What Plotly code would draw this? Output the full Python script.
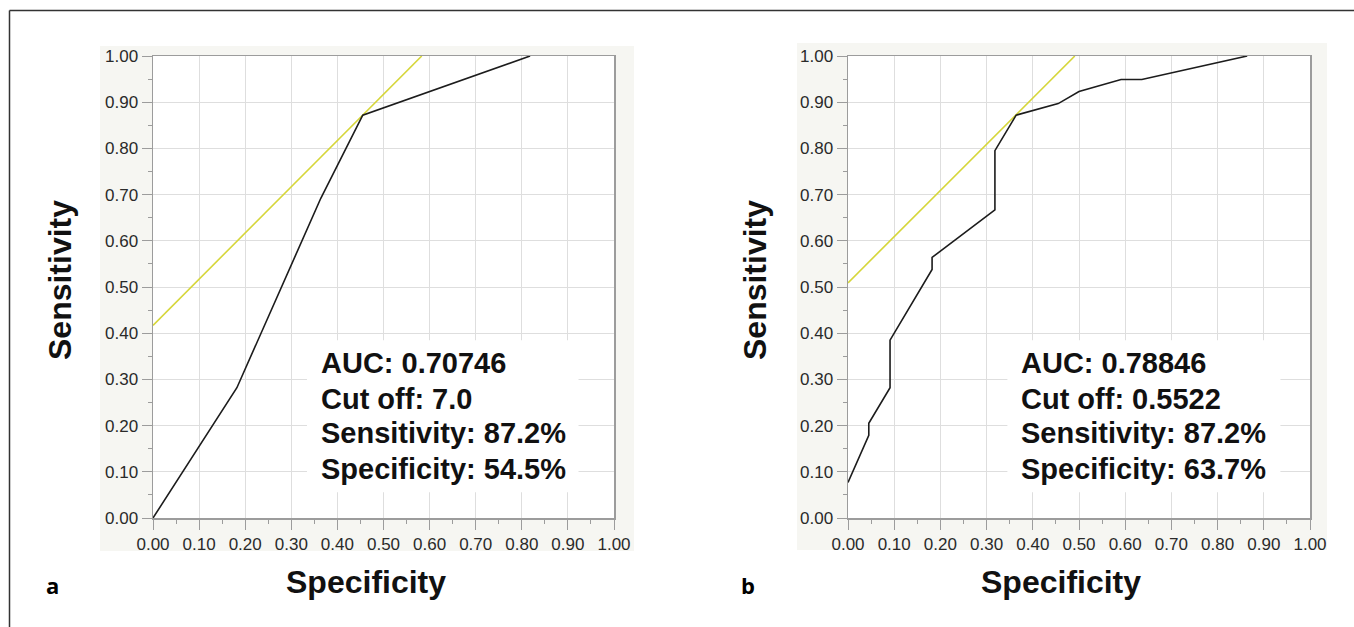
import plotly.graph_objects as go

# ---- data ----
spec_a = [0.0, 0.182, 0.364, 0.455, 0.818]
sens_a = [0.0, 0.282, 0.692, 0.872, 1.0]
tan_a_x = [0.0, 0.583]
tan_a_y = [0.417, 1.0]

spec_b = [0.0, 0.045, 0.045, 0.091, 0.091, 0.182, 0.182, 0.318, 0.318,
          0.364, 0.455, 0.5, 0.591, 0.636, 0.864]
sens_b = [0.077, 0.179, 0.205, 0.282, 0.385, 0.538, 0.564, 0.667, 0.795,
          0.872, 0.897, 0.923, 0.949, 0.949, 1.0]
tan_b_x = [0.0, 0.491]
tan_b_y = [0.509, 1.0]

stats_a = ["AUC: 0.70746", "Cut off: 7.0", "Sensitivity: 87.2%", "Specificity: 54.5%"]
stats_b = ["AUC: 0.78846", "Cut off: 0.5522", "Sensitivity: 87.2%", "Specificity: 63.7%"]
stat_rows_y = [0.335, 0.258, 0.183, 0.107]
panel_labels = ["a", "b"]
x_title = "Specificity"
y_title = "Sensitivity"

W, H = 1354, 627
FONT = "Liberation Sans, Arial, sans-serif"

fig = go.Figure()

BLACK = "#1c1c1c"
YELLOW = "#d6d63a"

fig.add_trace(go.Scatter(x=tan_a_x, y=tan_a_y, mode="lines",
                         line=dict(color=YELLOW, width=1.6), xaxis="x", yaxis="y",
                         showlegend=False, hoverinfo="skip"))
fig.add_trace(go.Scatter(x=spec_a, y=sens_a, mode="lines",
                         line=dict(color=BLACK, width=1.6), xaxis="x", yaxis="y",
                         showlegend=False))
fig.add_trace(go.Scatter(x=tan_b_x, y=tan_b_y, mode="lines",
                         line=dict(color=YELLOW, width=1.6), xaxis="x2", yaxis="y2",
                         showlegend=False, hoverinfo="skip"))
fig.add_trace(go.Scatter(x=spec_b, y=sens_b, mode="lines",
                         line=dict(color=BLACK, width=1.6), xaxis="x2", yaxis="y2",
                         showlegend=False))

def px_x(p):
    return p / W

def px_y(p):
    return 1 - p / H

ydom = [px_y(518), px_y(56)]
axis_common = dict(
    range=[0, 1], dtick=0.1, tick0=0, tickformat=".2f",
    showgrid=True, gridcolor="#dedede", gridwidth=1,
    showline=True, linecolor="#9c9c9c", linewidth=1.5, mirror=True,
    zeroline=False, ticks="outside", tickcolor="#9c9c9c", tickwidth=1,
    tickfont=dict(family=FONT, size=17, color="#2a2a2a"),
    fixedrange=True, automargin=False,
)
minor = dict(dtick=0.05, ticklen=4, tickcolor="#9c9c9c", showgrid=False, ticks="outside")
xax = dict(axis_common, ticklen=10, minor=minor)
yax = dict(axis_common, ticklen=10, minor=minor)

fig.update_layout(
    width=W, height=H, autosize=False,
    margin=dict(l=0, r=0, t=0, b=0),
    paper_bgcolor="white", plot_bgcolor="white",
    xaxis=dict(xax, domain=[px_x(153), px_x(614)], anchor="y"),
    yaxis=dict(yax, domain=ydom, anchor="x"),
    xaxis2=dict(xax, domain=[px_x(848), px_x(1310)], anchor="y2"),
    yaxis2=dict(yax, domain=ydom, anchor="x2"),
    showlegend=False,
)

shapes = []
# light grey panels behind each chart
for (x0, x1, y0, y1) in [(100, 634, 46, 551), (797, 1327, 43, 550)]:
    shapes.append(dict(type="rect", xref="paper", yref="paper",
                       x0=px_x(x0), x1=px_x(x1), y0=px_y(y1), y1=px_y(y0),
                       fillcolor="#f6f6f2", line=dict(width=0), layer="below"))
# white plot areas
for xr, yr in [("x", "y"), ("x2", "y2")]:
    shapes.append(dict(type="rect", xref=xr + " domain", yref=yr + " domain",
                       x0=0, x1=1, y0=0, y1=1, fillcolor="white",
                       line=dict(width=0), layer="below"))
# white boxes behind the statistics text
for xr, yr, bx0, bx1 in [("x", "y", 0.334, 0.923), ("x2", "y2", 0.345, 0.936)]:
    shapes.append(dict(type="rect", xref=xr, yref=yr, x0=bx0, x1=bx1, y0=0.056, y1=0.385,
                       fillcolor="white", line=dict(width=0), layer="between"))
# outer frame (left and top edges)
shapes.append(dict(type="line", xref="paper", yref="paper",
                   x0=px_x(9.5), x1=px_x(9.5), y0=0, y1=px_y(10.5),
                   line=dict(color="#333333", width=1.5)))
shapes.append(dict(type="line", xref="paper", yref="paper",
                   x0=px_x(9.5), x1=1, y0=px_y(10.5), y1=px_y(10.5),
                   line=dict(color="#333333", width=1.5)))
fig.update_layout(shapes=shapes)

annotations = []
for xr, yr, xs, lines in [("x", "y", 0.36, stats_a), ("x2", "y2", 0.371, stats_b)]:
    for txt, yy in zip(lines, stat_rows_y):
        annotations.append(dict(xref=xr, yref=yr, x=xs, y=yy, text=txt,
                                showarrow=False, xanchor="left", yanchor="middle",
                                font=dict(family=FONT, size=29, color="#111111", weight="bold")))
# axis titles
for cx in [366, 1061]:
    annotations.append(dict(xref="paper", yref="paper", x=px_x(cx), y=px_y(582),
                            text=x_title, showarrow=False, xanchor="center", yanchor="middle",
                            font=dict(family=FONT, size=32, color="#111111", weight="bold")))
for cx in [60, 755]:
    annotations.append(dict(xref="paper", yref="paper", x=px_x(cx), y=px_y(280),
                            text=y_title, showarrow=False, textangle=-90,
                            xanchor="center", yanchor="middle",
                            font=dict(family=FONT, size=32, color="#111111", weight="bold")))
# panel letters
for lbl, cx in zip(panel_labels, [52, 748]):
    annotations.append(dict(xref="paper", yref="paper", x=px_x(cx), y=px_y(585),
                            text=lbl, showarrow=False, xanchor="center", yanchor="middle",
                            font=dict(family="Open Sans, Noto Sans, sans-serif", size=22,
                                      color="#000000", weight="bold")))
fig.update_layout(annotations=annotations)

fig.write_html("out.html",
               config={"displayModeBar": False, "staticPlot": True},
               post_script="document.body.style.margin='0';document.body.style.padding='0';")
